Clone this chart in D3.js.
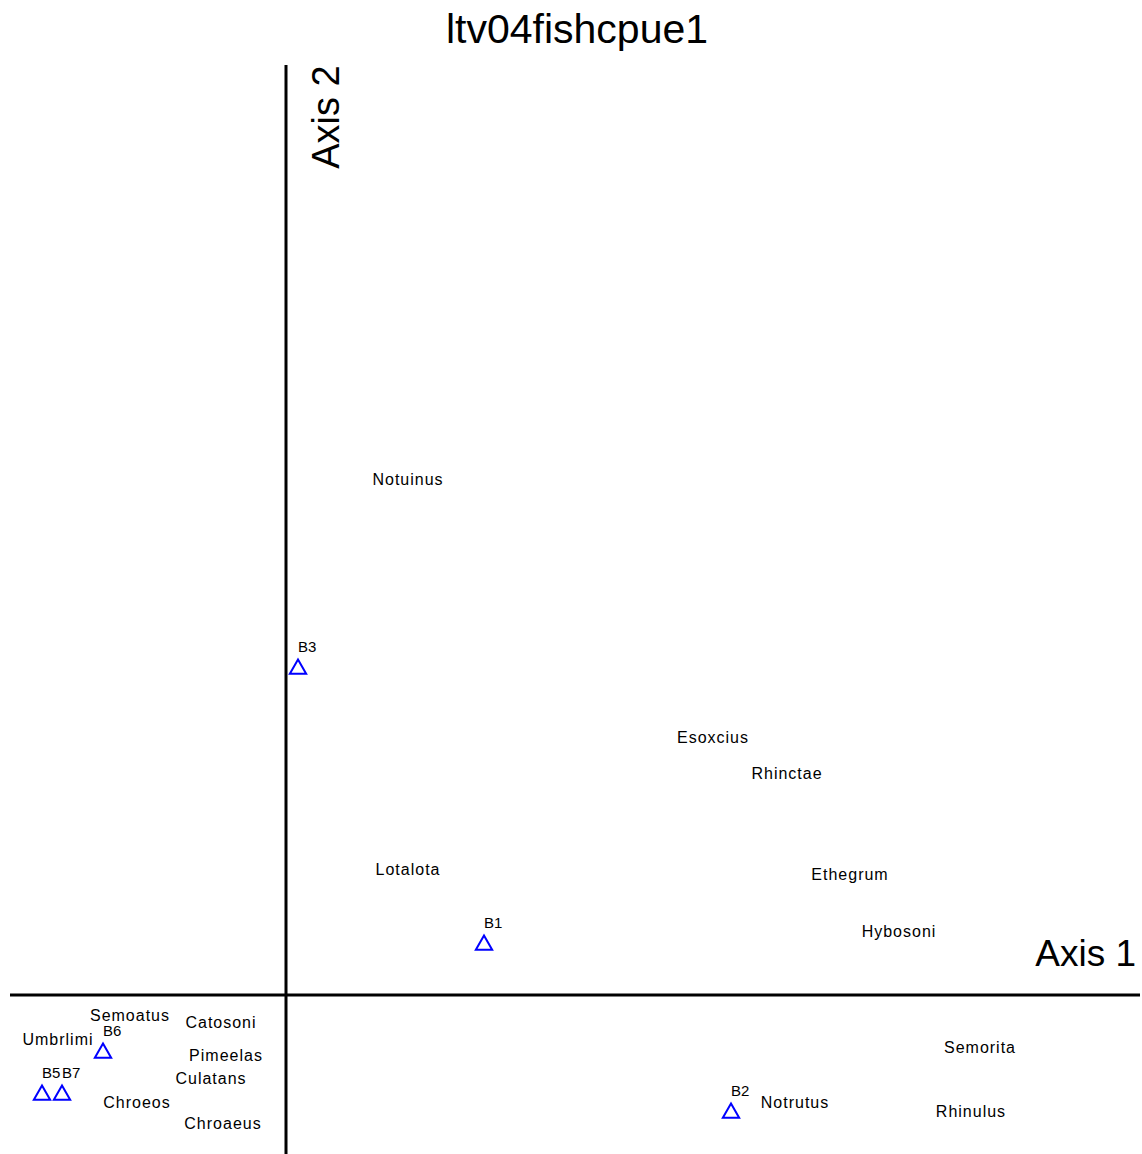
<!DOCTYPE html>
<html lang="en">
<head>
    <meta charset="UTF-8">
    <title>ltv04fishcpue1</title>
    <script src="https://d3js.org/d3.v7.min.js"></script>
    <style>
        body { margin: 0; background: #fff; }
        text { font-family: "Liberation Sans", Arial, sans-serif; fill: #000; }
        .axis-line { stroke: #000; stroke-width: 3px; }
        .site { fill: none; stroke: #0000ff; stroke-width: 2px; }
        .species { font-size: 16px; letter-spacing: 1px; }
        .site-label { font-size: 15px; }
    </style>
</head>
<body>
<svg width="1142" height="1154"></svg>
<script>
    // site scores (axis 1, axis 2)
    const siteNames = ["B1", "B2", "B3", "B5", "B6", "B7"];
    const siteAx1 = [1.98, 4.45, 0.12, -2.44, -1.83, -2.24];
    const siteAx2 = [0.51, -1.17, 3.27, -0.99, -0.57, -0.99];

    // species scores
    const speciesNames = ["Notuinus", "Esoxcius", "Rhinctae", "Lotalota", "Ethegrum", "Hybosoni",
        "Semorita", "Notrutus", "Rhinulus", "Semoatus", "Umbrlimi", "Catosoni",
        "Pimeelas", "Culatans", "Chroeos", "Chroaeus"];
    const speciesAx1 = [1.22, 4.27, 5.01, 1.22, 5.64, 6.13,
        6.94, 5.09, 6.85, -1.56, -2.28, -0.65,
        -0.60, -0.75, -1.49, -0.63];
    const speciesAx2 = [5.16, 2.58, 2.22, 1.26, 1.21, 0.64,
        -0.52, -1.07, -1.16, -0.20, -0.44, -0.27,
        -0.60, -0.83, -1.07, -1.28];

    const svg = d3.select("svg");
    const x = d3.scaleLinear().domain([-2.76, 8.54]).range([10, 1140]);
    const y = d3.scaleLinear().domain([-1.59, 9.30]).range([1154, 65]);

    // title
    svg.append("text")
        .attr("x", 577).attr("y", 43)
        .attr("text-anchor", "middle")
        .style("font-size", "41px")
        .text("ltv04fishcpue1");

    // axes through the origin
    svg.append("line").attr("class", "axis-line")
        .attr("x1", x(0)).attr("x2", x(0))
        .attr("y1", y.range()[1]).attr("y2", y.range()[0]);
    svg.append("line").attr("class", "axis-line")
        .attr("x1", x.range()[0]).attr("x2", x.range()[1])
        .attr("y1", y(0)).attr("y2", y(0));

    svg.append("text")
        .attr("transform", `translate(${x(0) + 53},${y.range()[1] + 52}) rotate(-90)`)
        .attr("text-anchor", "middle")
        .style("font-size", "38px")
        .text("Axis 2");

    svg.append("text")
        .attr("x", x.range()[1] - 4).attr("y", y(0) - 29)
        .attr("text-anchor", "end")
        .style("font-size", "37px")
        .text("Axis 1");

    // species labels
    const species = speciesNames.map((n, i) => ({name: n, a1: speciesAx1[i], a2: speciesAx2[i]}));
    svg.append("g").selectAll("text")
        .data(species)
        .join("text")
        .attr("class", "species")
        .attr("x", d => x(d.a1))
        .attr("y", d => y(d.a2))
        .attr("dy", "0.36em")
        .attr("text-anchor", "middle")
        .text(d => d.name);

    // sites as open triangles
    const sites = siteNames.map((n, i) => ({name: n, a1: siteAx1[i], a2: siteAx2[i]}));
    const tri = d3.symbol().type(d3.symbolTriangle).size(115);
    const g = svg.append("g");
    g.selectAll("path")
        .data(sites)
        .join("path")
        .attr("class", "site")
        .attr("transform", d => `translate(${x(d.a1)},${y(d.a2) + 1})`)
        .attr("d", tri);
    g.selectAll("text")
        .data(sites)
        .join("text")
        .attr("class", "site-label")
        .attr("x", d => x(d.a1))
        .attr("y", d => y(d.a2) - 16)
        .text(d => d.name);
</script>
</body>
</html>
